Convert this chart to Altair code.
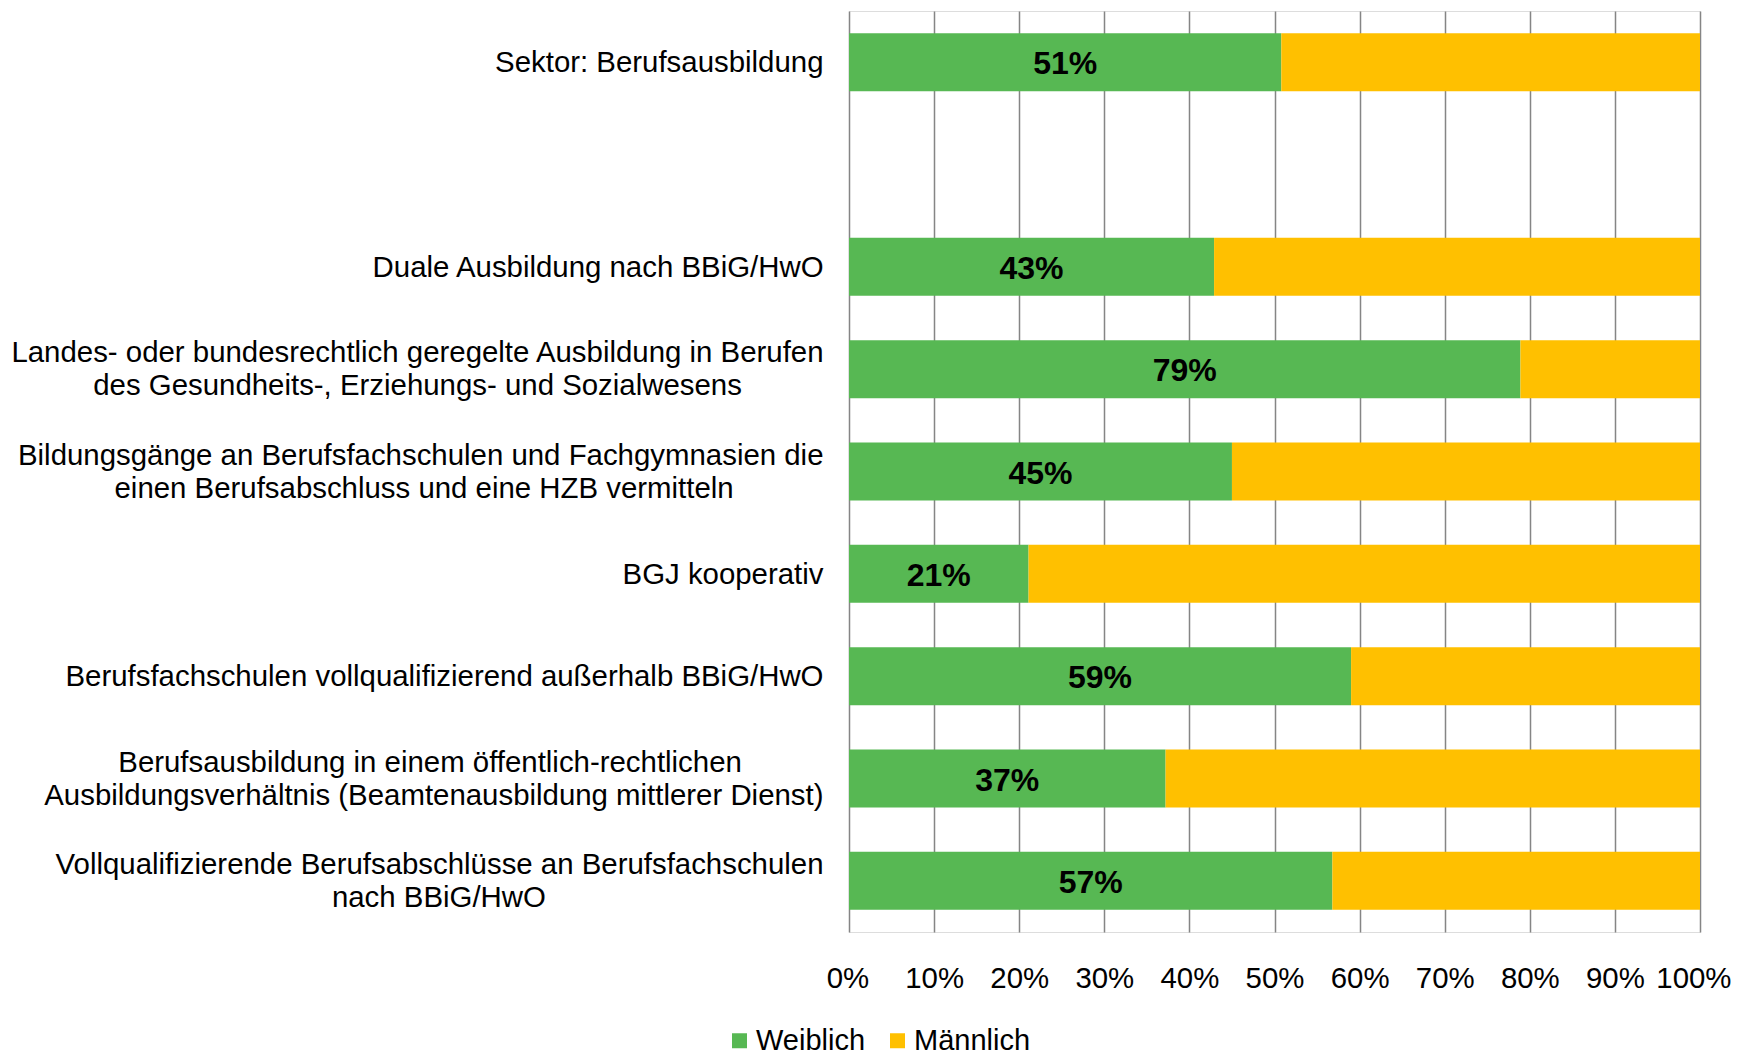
import altair as alt
import pandas as pd

FONT = "Liberation Sans"
NBSP = "\u00a0"
ZWSP = "\u200b"  # keeps the no-break spaces from being trimmed

# ---- data -----------------------------------------------------------------
categories = [
    "Sektor: Berufsausbildung",
    "Duale Ausbildung nach BBiG/HwO",
    "Landes- oder bundesrechtlich geregelte Ausbildung in Berufen\ndes Gesundheits-, Erziehungs- und Sozialwesens",
    "Bildungsgänge an Berufsfachschulen und Fachgymnasien die\neinen Berufsabschluss und eine HZB vermitteln",
    "BGJ kooperativ",
    "Berufsfachschulen vollqualifizierend außerhalb BBiG/HwO",
    "Berufsausbildung in einem öffentlich-rechtlichen\nAusbildungsverhältnis (Beamtenausbildung mittlerer Dienst)",
    "Vollqualifizierende Berufsabschlüsse an Berufsfachschulen\nnach BBiG/HwO",
]
weiblich = [50.8, 42.9, 78.9, 45.0, 21.1, 59.0, 37.2, 56.8]
maennlich = [49.2, 57.1, 21.1, 55.0, 78.9, 41.0, 62.8, 43.2]
series = ["Weiblich", "Männlich"]
x_ticks = [0, 10, 20, 30, 40, 50, 60, 70, 80, 90, 100]

# ---- styling --------------------------------------------------------------
colors = ["#57B853", "#FFC000"]
FS = 29.4
# centre the shorter line of two-line labels under the longer one
# (category index -> (line index, number of no-break spaces appended))
line_centering = {2: (1, 10), 3: (1, 11), 6: (0, 10), 7: (1, 34)}


def display_label(i, text):
    lines = text.split("\n")
    if i in line_centering:
        li, n = line_centering[i]
        lines[li] = lines[li] + NBSP * n + ZWSP
    return "|".join(lines)


labels = [display_label(i, c) for i, c in enumerate(categories)]
# empty slot between the sector total and the individual programmes
y_domain = [labels[0], " "] + labels[1:]

rows = []
for lab, w, m in zip(labels, weiblich, maennlich):
    rows.append({"Kategorie": lab, "Geschlecht": series[0], "Anteil": w, "Reihenfolge": 0})
    rows.append({"Kategorie": lab, "Geschlecht": series[1], "Anteil": m, "Reihenfolge": 1})
df = pd.DataFrame(rows)

y_scale = alt.Scale(domain=y_domain, paddingInner=0.433, paddingOuter=0.2165)
y_axis = alt.Axis(
    title=None,
    labelExpr="split(datum.value, '|')",
    labelFont=FONT,
    labelFontSize=FS,
    labelLineHeight=33,
    labelColor="black",
    labelPadding=26,
    labelLimit=2000,
    labelOffset=1,
    labelBaseline={
        "condition": {"test": "indexof(datum.value, '|') >= 0", "value": "line-bottom"},
        "value": "middle",
    },
    domain=False,
    ticks=False,
    grid=False,
)
x_scale = alt.Scale(domain=[0, 100], nice=False)
x_axis = alt.Axis(
    title=None,
    values=x_ticks,
    # end labels are flush-aligned so "100%" stays inside the page;
    # the first one gets a small lead so that it sits centred under 0
    labelExpr="datum.value == 0 ? '\u200b\u00a0' + '0%' : datum.value + '%'",
    labelFont=FONT,
    labelFontSize=FS,
    labelColor="black",
    labelPadding=46,
    labelBaseline="middle",
    labelFlush=True,
    labelFlushOffset=31,
    labelOverlap=False,
    domain=False,
    ticks=False,
    tickSize=0,
    grid=True,
    gridColor="#858585",
    gridWidth=1.5,
)

bars = alt.Chart(df).mark_bar().encode(
    y=alt.Y("Kategorie:N", scale=y_scale, axis=y_axis, sort=y_domain),
    x=alt.X("Anteil:Q", stack="zero", scale=x_scale, axis=x_axis),
    color=alt.Color(
        "Geschlecht:N",
        scale=alt.Scale(domain=series, range=colors),
        legend=alt.Legend(
            title=None,
            orient="none",
            direction="horizontal",
            legendX=-124,
            legendY=1015,
            symbolType="square",
            symbolSize=225,
            symbolStrokeWidth=0,
            symbolOpacity=1,
            labelFont=FONT,
            labelFontSize=29,
            labelColor="black",
            labelOffset=2,
            columnPadding=17,
            padding=0,
        ),
    ),
    order=alt.Order("Reihenfolge:Q", sort="ascending"),
)

texts = (
    alt.Chart(df)
    .transform_filter(alt.datum.Geschlecht == series[0])
    .transform_calculate(mitte="datum.Anteil / 2", txt="format(datum.Anteil, '.0f') + '%'")
    .mark_text(font=FONT, fontSize=32, fontWeight="bold", color="black", baseline="middle", dy=2)
    .encode(
        y=alt.Y("Kategorie:N", scale=y_scale, axis=y_axis, sort=y_domain),
        x=alt.X("mitte:Q", scale=x_scale, axis=x_axis),
        text="txt:N",
    )
)

chart = (
    alt.layer(bars, texts)
    .properties(
        width=851,
        height=921,
        autosize=alt.AutoSizeParams(type="none"),
        padding={"left": 841, "top": 3, "right": 32, "bottom": 126},
    )
    .configure_view(stroke=None)
    .configure(font=FONT)
)

chart.save("out.html", embed_options={"renderer": "svg", "actions": False})
